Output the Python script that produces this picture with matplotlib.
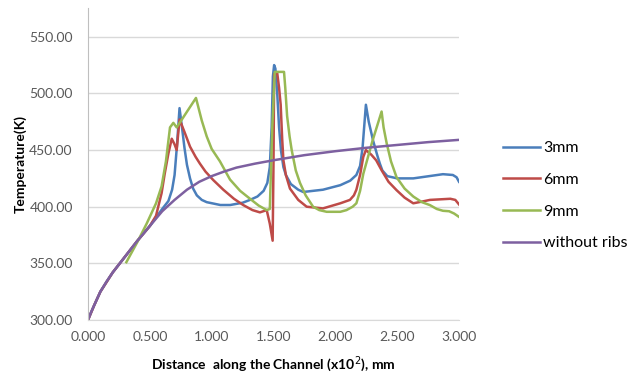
import numpy as np
import matplotlib.pyplot as plt

plt.rcParams['font.family'] = ['Lato', 'DejaVu Sans']

# temperature along the channel, distance in units of 10^2 mm
x_plain = [0, 0.025, 0.05, 0.1, 0.15, 0.2, 0.3, 0.4, 0.5, 0.6, 0.7, 0.8, 0.9, 1.0, 1.1,
           1.2, 1.35, 1.5, 1.75, 2.0, 2.25, 2.5, 2.75, 3.0]
t_plain = [300, 307, 313, 325, 334, 342, 356, 370, 383, 396, 406, 415, 422, 427, 431,
           434.5, 438, 441, 445.5, 449, 452, 454.5, 457, 459]

x_3mm = [0, 0.05, 0.1, 0.2, 0.3, 0.4, 0.5, 0.6, 0.65, 0.68, 0.70, 0.72, 0.74, 0.76, 0.78,
         0.80, 0.825, 0.85, 0.88, 0.92, 0.96, 1.07, 1.15, 1.25, 1.31, 1.37, 1.42, 1.45,
         1.47, 1.485, 1.495, 1.505, 1.515, 1.53, 1.545, 1.56, 1.58, 1.60, 1.64, 1.70,
         1.74, 1.9, 2.04, 2.12, 2.17, 2.2, 2.22, 2.247, 2.27, 2.306, 2.34, 2.36, 2.38,
         2.42, 2.5, 2.63, 2.87, 2.95, 2.98, 3.0]
t_3mm = [300, 313, 325, 342, 356, 370, 383, 398, 405, 415, 428, 455, 487, 470, 452,
         437, 425, 416, 410, 406, 404, 401.5, 401.5, 403.5, 406, 409, 414, 421,
         435, 470, 515, 525, 522, 500, 470, 450, 435, 428, 420, 415,
         413, 415, 419, 423, 428, 436, 452, 490, 475, 458, 445, 438, 432,
         427, 425, 425, 428.7, 428, 426, 422]

x_6mm = [0, 0.05, 0.1, 0.2, 0.3, 0.4, 0.5, 0.55, 0.595, 0.62, 0.65, 0.677, 0.70, 0.717,
         0.74, 0.78, 0.825, 0.87, 0.905, 0.95, 1.013, 1.094, 1.18, 1.256, 1.33, 1.39,
         1.445, 1.47, 1.493, 1.50, 1.505, 1.53, 1.545, 1.558, 1.57, 1.58, 1.60, 1.633,
         1.7, 1.768, 1.9, 2.04, 2.118, 2.15, 2.17, 2.2, 2.226, 2.247, 2.29, 2.33, 2.375,
         2.43, 2.495, 2.56, 2.63, 2.7, 2.765, 2.93, 2.97, 3.0]
t_6mm = [300, 313, 325, 342, 356, 370, 383, 392, 412, 429, 447, 460, 455, 450,
         477, 466, 453, 444, 438, 431, 423.5, 415, 407, 401.4, 397, 395,
         397, 385, 370, 440, 517, 518, 505, 490, 460, 441, 428, 416,
         406, 400, 398.5, 403, 406, 410, 415, 428, 444, 450, 446, 441, 432,
         422, 414.6, 408, 403, 404.5, 406, 407, 406, 402]

x_9mm = [0.31, 0.4, 0.474, 0.55, 0.595, 0.63, 0.663, 0.69, 0.717, 0.873, 0.92, 0.96, 1.0,
         1.067, 1.148, 1.23, 1.31, 1.38, 1.445, 1.47, 1.49, 1.51, 1.585, 1.595, 1.61,
         1.63, 1.647, 1.68, 1.714, 1.76, 1.82, 1.87, 1.93, 2.04, 2.09, 2.14, 2.17, 2.2,
         2.226, 2.3, 2.374, 2.39, 2.415, 2.45, 2.495, 2.56, 2.63, 2.7, 2.765, 2.82, 2.87,
         2.92, 2.96, 3.0]
t_9mm = [351, 369, 385, 403, 418, 440, 470, 474, 470, 496, 476, 462, 451,
         440, 424, 414, 407, 401, 397, 398, 470, 519, 519, 505, 480,
         462, 450, 432, 421, 410, 400, 397, 395.5, 395.5, 397, 400, 403, 414,
         429, 458, 484, 470, 456, 440, 426, 416, 409, 404, 401.4, 398, 396.4,
         396, 394, 391]

series = [
    ('3mm', x_3mm, t_3mm, '#4A7EBB'),
    ('6mm', x_6mm, t_6mm, '#BE4B48'),
    ('9mm', x_9mm, t_9mm, '#98B954'),
    ('without ribs', x_plain, t_plain, '#7D60A0'),
]

fig = plt.figure(figsize=(6.3, 3.79), dpi=100)
ax = fig.add_axes([0.1397, 0.1557, 0.5889, 0.822])

for name, xs, ts, col in series:
    ax.plot(xs, ts, color=col, lw=1.8, label=name, solid_joinstyle='round')

ax.set_xlim(0, 3.0)
ax.set_ylim(300, 575)
ax.set_xticks(np.arange(0, 3.01, 0.5))
ax.set_xticklabels(['%.3f' % v for v in np.arange(0, 3.01, 0.5)])
ax.set_yticks(np.arange(300, 551, 50))
ax.set_yticklabels(['%.2f' % v for v in np.arange(300, 551, 50)])
ax.grid(axis='y', color='#D9D9D9', lw=1)
ax.set_axisbelow(True)
for s in ['top', 'right']:
    ax.spines[s].set_visible(False)
ax.spines['left'].set_color('#BFBFBF')
ax.spines['bottom'].set_color('#D9D9D9')
ax.tick_params(axis='y', length=0, labelsize=10, labelcolor='#595959', pad=11)
ax.tick_params(axis='x', length=0, labelsize=10, labelcolor='#595959', pad=8)

ax.set_xlabel('Distance  along the Channel (x10$^2$), mm', fontsize=10, fontweight='bold',
              labelpad=8)
ax.set_ylabel('Temperature(K)', fontsize=10, fontweight='bold', labelpad=2)

fig.legend(loc='upper left', bbox_to_anchor=(503 / 630, 0.628), frameon=False,
           fontsize=11.5, handlelength=2.3, handletextpad=0.2, labelspacing=1.1,
           borderpad=0, borderaxespad=0)

fig.savefig('out.png', dpi=100)
